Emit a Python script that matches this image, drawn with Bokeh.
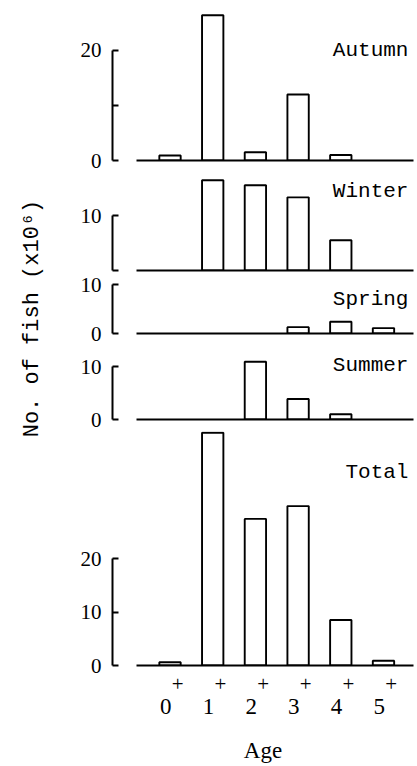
import math
from bokeh.plotting import figure
from bokeh.layouts import row, column
from bokeh.models import LinearAxis, FixedTicker, Range1d, Label
from bokeh.embed import file_html
from bokeh.resources import INLINE

# ---------------- data ----------------
ages = [0, 1, 2, 3, 4, 5]
age_labels = ["0", "1", "2", "3", "4", "5"]
autumn = [0.9, 26.4, 1.5, 12.0, 1.0, 0.0]
winter = [0.0, 16.4, 15.5, 13.3, 5.5, 0.0]
spring = [0.0, 0.0, 0.0, 1.3, 2.4, 1.1]
summer = [0.0, 0.0, 11.0, 3.9, 1.0, 0.0]
total = [0.6, 43.5, 27.4, 29.8, 8.5, 0.9]
panel_names = ["Autumn", "Winter", "Spring", "Summer", "Total"]
y_ticks = [[0, 10, 20], [0, 10], [0, 10], [0, 10], [0, 10, 20]]
y_tick_labels = [["0", "", "20"], ["", "10"], ["0", "10"], ["0", "10"], ["0", "10", "20"]]
y_title = "No. of fish (x10\u2076)"
x_title = "Age"

# ---------------- layout / style ----------------
LABEL_W = 56
PANEL_W = 361
FRAME_LEFT = 56
FRAME_RIGHT = 4
x_start, x_end = -1.347, 5.703
base_start = -0.785
label_x = 5.585
SERIF = "Liberation Serif"
MONO = "Liberation Mono"
INK = "black"

series = [autumn, winter, spring, summer, total]
heights = [172, 100, 74, 85, 335]
y_ends = [29.09, 17.82, 12.45, 13.9, 43.74]
bottoms = [12, 2, 13, 12, 101]
name_y = [20.0, 14.36, 6.94, 10.29, 36.07]

x_range = Range1d(x_start, x_end)
panels = []
for i, vals in enumerate(series):
    is_total = (i == len(series) - 1)
    p = figure(width=PANEL_W, height=heights[i], x_range=x_range,
               y_range=Range1d(0, y_ends[i]), x_axis_type=None, y_axis_type=None,
               toolbar_location=None, output_backend="svg",
               min_border_left=FRAME_LEFT, min_border_right=FRAME_RIGHT, min_border_top=0,
               min_border_bottom=bottoms[i], outline_line_color=None,
               background_fill_color="white", border_fill_color="white")
    p.xgrid.visible = False
    p.ygrid.visible = False

    xs = [a for a, v in zip(ages, vals) if v > 0]
    tops = [v for v in vals if v > 0]
    p.vbar(x=xs, top=tops, bottom=0, width=0.5, fill_color="white",
           line_color=INK, line_width=1.9)

    # y axis (bracket)
    yt = y_ticks[i]
    yax = LinearAxis(ticker=FixedTicker(ticks=yt), bounds=(yt[0], yt[-1]),
                     major_label_overrides={t: l for t, l in zip(yt, y_tick_labels[i])},
                     major_tick_in=6, major_tick_out=0, minor_tick_in=0, minor_tick_out=0,
                     major_tick_line_width=2, major_tick_line_color=INK,
                     axis_line_width=2, axis_line_color=INK,
                     major_label_standoff=11,
                     major_label_text_font=SERIF, major_label_text_font_size="21px",
                     major_label_text_color=INK)
    p.add_layout(yax, "left")

    if not is_total:
        base = LinearAxis(ticker=FixedTicker(ticks=[]), bounds=(base_start, x_end),
                          major_tick_in=0, major_tick_out=0, minor_tick_in=0, minor_tick_out=0,
                          major_label_standoff=0, major_label_text_font_size="0px",
                          axis_line_width=2, axis_line_color=INK)
        p.add_layout(base, "below")
    else:
        plus_ticks = [a + 0.18 for a in ages]
        base = LinearAxis(ticker=FixedTicker(ticks=plus_ticks), bounds=(base_start, x_end),
                          major_label_overrides={t: "+" for t in plus_ticks},
                          major_tick_in=0, major_tick_out=0, minor_tick_in=0, minor_tick_out=0,
                          major_label_standoff=11, major_label_text_font=SERIF,
                          major_label_text_font_size="21px", major_label_text_color=INK,
                          axis_line_width=2, axis_line_color=INK)
        p.add_layout(base, "below")
        num_ticks = [a - 0.1 for a in ages]
        nums = LinearAxis(ticker=FixedTicker(ticks=num_ticks),
                          major_label_overrides={t: l for t, l in zip(num_ticks, age_labels)},
                          major_tick_in=0, major_tick_out=0, minor_tick_in=0, minor_tick_out=0,
                          axis_line_color=None, major_label_standoff=5,
                          major_label_text_font=SERIF, major_label_text_font_size="23px",
                          major_label_text_color=INK,
                          axis_label=x_title, axis_label_standoff=21,
                          axis_label_text_font=SERIF, axis_label_text_font_size="23px",
                          axis_label_text_font_style="normal", axis_label_text_color=INK)
        p.add_layout(nums, "below")

    p.add_layout(Label(x=label_x, y=name_y[i], text=panel_names[i], text_align="right",
                       text_baseline="alphabetic", text_font=MONO, text_font_size="21px",
                       text_color=INK))
    panels.append(p)

lab = figure(width=LABEL_W, height=sum(heights), x_range=Range1d(0, LABEL_W),
             y_range=Range1d(0, sum(heights)), x_axis_type=None, y_axis_type=None,
             toolbar_location=None, output_backend="svg", min_border=0,
             outline_line_color=None)
lab.xgrid.visible = False
lab.ygrid.visible = False
lab.add_layout(Label(x=32, y=448, text=y_title, angle=math.pi / 2, text_align="center",
                     text_baseline="middle", text_font=MONO, text_font_size="22px",
                     text_color=INK))

layout = row(lab, column(*panels))
open("out.html", "w").write(file_html(layout, INLINE))
